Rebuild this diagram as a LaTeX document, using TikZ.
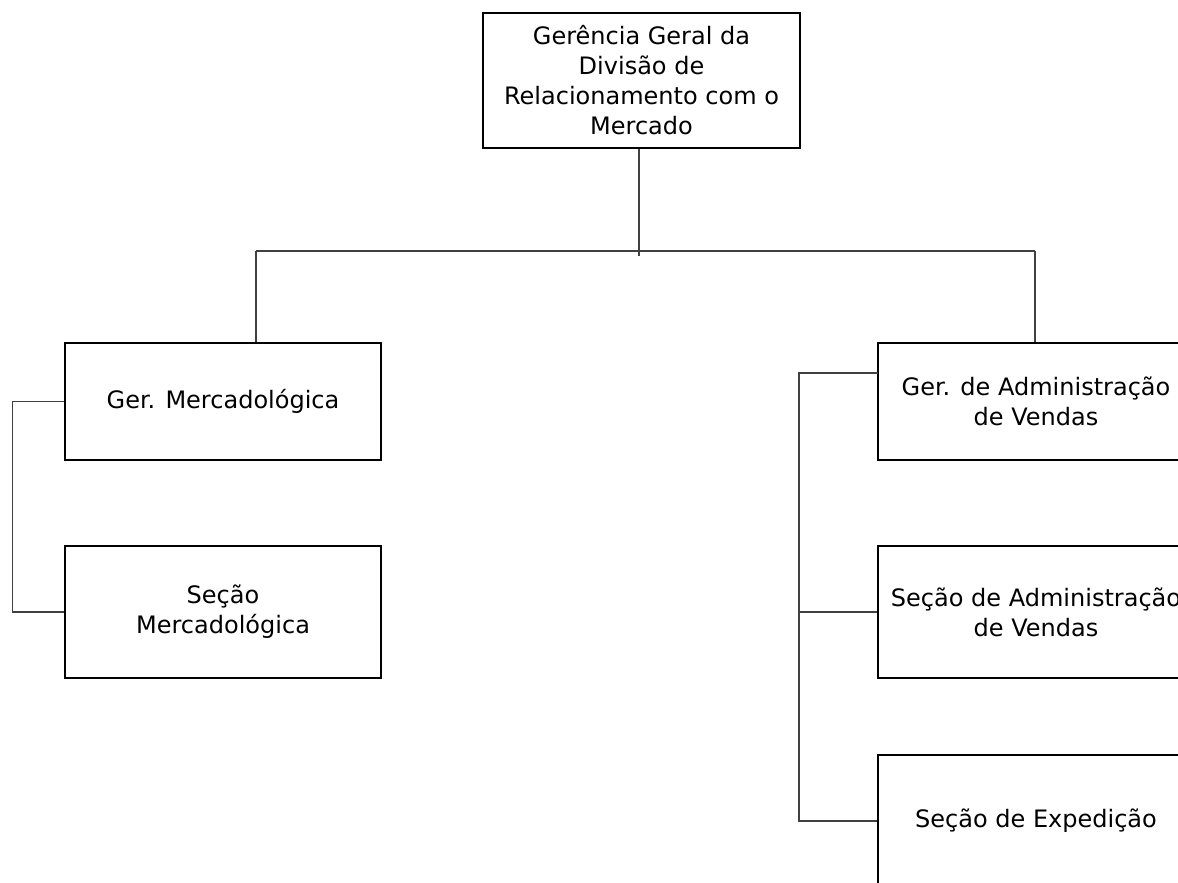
\documentclass[tikz,border=0pt]{standalone}
\usepackage{fontspec}
\setmainfont{DejaVu Sans}

\begin{document}
\begin{tikzpicture}[x=1pt,y=-1pt,
  box/.style={rectangle,draw,line width=1.2pt,align=center,inner sep=0pt,
    font=\fontsize{24}{30}\selectfont},
  link/.style={draw=black!75,line width=1.2pt}]
\useasboundingbox (0,0) rectangle (1178,883);
\clip (0,0) rectangle (1178,883);

% boxes
\node[box,minimum width=317pt,minimum height=135pt] (geral) at (641.5,80.5)
  {Gerência Geral da\\Divisão de\\Relacionamento com o\\Mercado};
\node[box,minimum width=316pt,minimum height=117pt] (merc) at (223,401.5)
  {Ger. Mercadológica};
\node[box,minimum width=316pt,minimum height=132pt] (secmerc) at (223,612)
  {Seção\\ Mercadológica};
\node[box,minimum width=316pt,minimum height=117pt] (admv) at (1036,401.5)
  {Ger. de Administração\\de Vendas};
\node[box,minimum width=316pt,minimum height=132pt] (secadmv) at (1036,612)
  {Seção de Administração\\de Vendas};
\node[box,minimum width=316pt,minimum height=132pt] (expd) at (1036,821)
  {Seção de Expedição};

% top level bus
\coordinate (busL) at (256,251);
\coordinate (busR) at (1035,251);
\coordinate (busC) at (639,256);
\draw[link] (geral.south -| busC) -- (busC);
\draw[link] (busL) -- (busR);
\draw[link] (busL) -- (busL |- merc.north);
\draw[link] (busR) -- (busR |- admv.north);

% left side
\draw[link] (merc.west) -- ++(-52,0) |- (secmerc.west);

% right side
\coordinate (rtop) at (878,373);
\coordinate (rbar) at (799,373);
\draw[link] (rtop) -- (rbar) |- (expd.west);
\draw[link] (rbar |- secadmv.west) -- (secadmv.west);
\end{tikzpicture}
\end{document}
